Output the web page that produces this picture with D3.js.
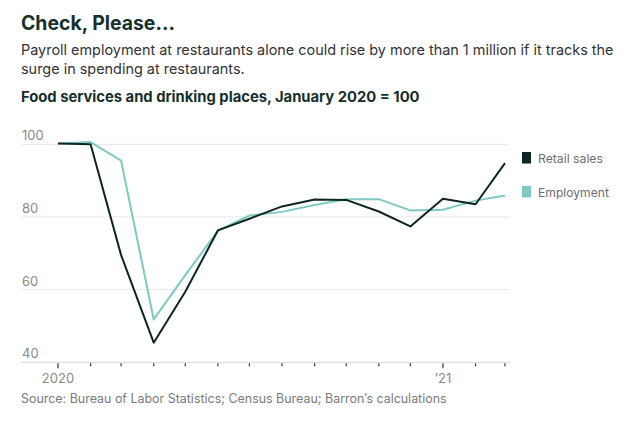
<!DOCTYPE html>
<html><head><meta charset="utf-8">
<script src="https://cdn.jsdelivr.net/npm/d3@7"></script>
<style>
html,body{margin:0;padding:0;background:#fff;}
svg{display:block;font-family:Inter,"Open Sans",sans-serif;}
</style></head>
<body>
<script>
const months = ["2020-01","2020-02","2020-03","2020-04","2020-05","2020-06","2020-07","2020-08","2020-09","2020-10","2020-11","2020-12","2021-01","2021-02","2021-03"];
const retailSales = [100.2, 100, 69.5, 45.4, 59.4, 76.3, 79.5, 82.9, 84.8, 84.7, 81.5, 77.4, 85, 83.5, 94.8];
const employment = [100.2, 100.6, 95.5, 51.8, 64, 76.2, 80.4, 81.4, 83.3, 84.9, 84.9, 81.8, 82, 84.5, 85.9];
const yTicks = [40, 60, 80, 100];
const xTickLabels = {"2020-01":"2020","2021-01":"\u201921"};
const seriesNames = ["Retail sales","Employment"];
const colors = ["#0e2623","#7ecac2"];

const W = 630, H = 423;
const svg = d3.select("body").append("svg").attr("width", W).attr("height", H);

// fit a text's font size so that it spans the target width seen in the reference
function fit(sel, size, target) {
  sel.attr("font-size", size);
  const w = sel.node().getComputedTextLength();
  sel.attr("font-size", (size * target / w).toFixed(2));
  return sel;
}

fit(svg.append("text").attr("x", 21).attr("y", 30).attr("font-weight", 700)
  .attr("fill", "#16302c").text("Check, Please..."), 20, 154);
const sub1 = svg.append("text").attr("x", 21).attr("y", 55).attr("fill", "#333")
  .text("Payroll employment at restaurants alone could rise by more than 1 million if it tracks the");
fit(sub1, 15, 593);
svg.append("text").attr("x", 21).attr("y", 74).attr("font-size", sub1.attr("font-size")).attr("fill", "#333")
  .text("surge in spending at restaurants.");
fit(svg.append("text").attr("x", 21).attr("y", 102).attr("font-weight", 700)
  .attr("fill", "#16302c").text("Food services and drinking places, January 2020 = 100"), 15, 399);

const parse = d3.timeParse("%Y-%m");
const dates = months.map(parse);
const x = d3.scaleTime().domain([dates[0], dates[dates.length-1]]).range([58, 505]);
const y = d3.scaleLinear().domain([40, 100]).range([362.3, 144.3]);

const g = svg.append("g");
g.selectAll(".grid").data(yTicks).join("line")
  .attr("x1", 21).attr("x2", 510)
  .attr("y1", d => y(d)).attr("y2", d => y(d))
  .attr("stroke", d => d === 40 ? "#d8d8d8" : "#e8e8e8").attr("stroke-width", 1);
g.selectAll(".ylab").data(yTicks).join("text")
  .attr("x", 22).attr("y", d => y(d) - 4)
  .attr("font-size", 13).attr("fill", "#8a8a8a").text(d => d);

g.selectAll(".xt").data(dates).join("line")
  .attr("x1", d => x(d)).attr("x2", d => x(d))
  .attr("y1", y(40) + 1)
  .attr("y2", (d, i) => y(40) + (xTickLabels[months[i]] ? 6 : 4))
  .attr("stroke", "#333").attr("stroke-width", 1.2);
g.selectAll(".xl").data(dates.filter((d, i) => xTickLabels[months[i]])).join("text")
  .attr("x", d => x(d)).attr("y", 383).attr("text-anchor", "middle")
  .attr("font-size", 13).attr("fill", "#8a8a8a")
  .text(d => xTickLabels[d3.timeFormat("%Y-%m")(d)]);

const line = d3.line().x((d, i) => x(dates[i])).y(d => y(d));
[employment, retailSales].forEach((s, k) => {
  g.append("path").datum(s).attr("d", line).attr("fill", "none")
    .attr("stroke", k === 0 ? colors[1] : colors[0]).attr("stroke-width", 2)
    .attr("stroke-linejoin", "round");
});

const legY = [152, 186];
const legW = [65, 71];
seriesNames.forEach((n, i) => {
  svg.append("rect").attr("x", 522).attr("y", legY[i]).attr("width", 9).attr("height", 11.5).attr("fill", colors[i]);
  fit(svg.append("text").attr("x", 538).attr("y", legY[i] + 11).attr("fill", "#6f6f6f").text(n), 13, legW[i]);
});

fit(svg.append("text").attr("x", 21).attr("y", 403).attr("fill", "#7a7a7a")
  .text("Source: Bureau of Labor Statistics; Census Bureau; Barron\u2019s calculations"), 13, 426);
</script>
</body></html>
